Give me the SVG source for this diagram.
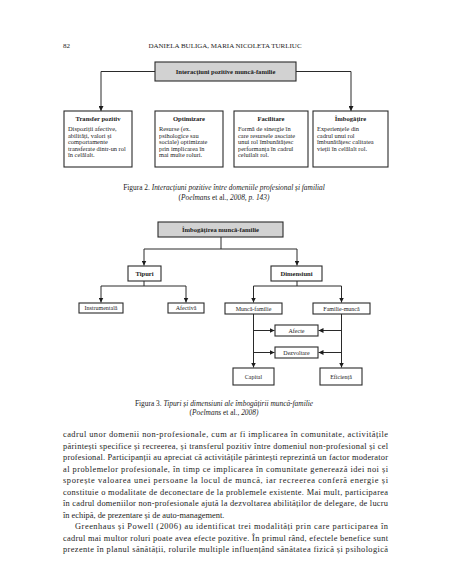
<svg xmlns="http://www.w3.org/2000/svg" width="452" height="584" viewBox="0 0 452 584">
<style>
text{font-family:"Liberation Serif","Times New Roman",serif;fill:#1c1c1c}
.box{fill:#fff;stroke:#2a2a2a;stroke-width:1.1}
.gbox{fill:#d2d2d2;stroke:#2a2a2a;stroke-width:1.1}
.ln{fill:none;stroke:#2a2a2a;stroke-width:1}
.hd{font-size:7px}
.bt{font-size:6.6px;font-weight:bold;text-anchor:middle}
.bb{font-size:6.4px}
.sb{font-size:6px;text-anchor:middle}
.sbb{font-size:6.6px;font-weight:bold;text-anchor:middle}
.cap{font-size:7.4px;text-anchor:middle}
.it{font-style:italic}
.p{font-size:8.4px}
</style>
<defs>
<marker id="ar" viewBox="0 0 6 6" refX="6" refY="3" markerWidth="5" markerHeight="5" orient="auto" markerUnits="userSpaceOnUse">
<path d="M0,0 L6,3 L0,6 z" fill="#1c1c1c"/>
</marker>
</defs>

<g id="header">
<text class="hd" x="63" y="48">82</text>
<text class="hd" x="225" y="48" text-anchor="middle">DANIELA BULIGA, MARIA NICOLETA TURLIUC</text>
</g>

<!-- Figure 2 -->
<g id="connectors-fig2">
<path class="ln" d="M155,71.5 H101 V111" marker-end="url(#ar)"/>
<path class="ln" d="M296,71.5 H351 V111" marker-end="url(#ar)"/>
</g>
<g id="f2-top">
<rect class="gbox" x="155" y="62" width="141" height="19"/>
<text class="bt" x="225.5" y="74">Interacțiuni pozitive muncă-familie</text>
</g>
<g id="f2-transfer">
<rect class="box" x="64" y="111" width="68" height="56"/>
<text class="bt" x="98" y="121">Transfer pozitiv</text>
<text class="bb" x="68" y="131">Dispoziții afective,</text>
<text class="bb" x="68" y="137.5">abilități, valori și</text>
<text class="bb" x="68" y="144">comportamente</text>
<text class="bb" x="68" y="150.5">transferate dintr-un rol</text>
<text class="bb" x="68" y="157">în celălalt.</text>
</g>
<g id="f2-optimizare">
<rect class="box" x="155" y="111" width="68" height="56"/>
<text class="bt" x="189" y="121">Optimizare</text>
<text class="bb" x="159" y="131">Resurse (ex.</text>
<text class="bb" x="159" y="137.5">psihologice sau</text>
<text class="bb" x="159" y="144">sociale) optimizate</text>
<text class="bb" x="159" y="150.5">prin implicarea în</text>
<text class="bb" x="159" y="157">mai multe roluri.</text>
</g>
<g id="f2-facilitare">
<rect class="box" x="234" y="111" width="74" height="56"/>
<text class="bt" x="271" y="121">Facilitare</text>
<text class="bb" x="238" y="131">Formă de sinergie în</text>
<text class="bb" x="238" y="137.5">care resursele asociate</text>
<text class="bb" x="238" y="144">unui rol îmbunătățesc</text>
<text class="bb" x="238" y="150.5">performanța în cadrul</text>
<text class="bb" x="238" y="157">celuilalt rol.</text>
</g>
<g id="f2-imbogatire">
<rect class="box" x="313" y="111" width="75" height="56"/>
<text class="bt" x="350.5" y="121">Îmbogățire</text>
<text class="bb" x="317" y="131">Experiențele din</text>
<text class="bb" x="317" y="137.5">cadrul unui rol</text>
<text class="bb" x="317" y="144">îmbunătățesc calitatea</text>
<text class="bb" x="317" y="150.5">vieții în celălalt rol.</text>
</g>
<g id="caption2">
<text class="cap" x="224" y="190">Figura 2. <tspan class="it">Interacțiuni pozitive între domeniile profesional și familial</tspan></text>
<text class="cap" x="224" y="200">(<tspan class="it">Poelmans</tspan> et al., <tspan class="it">2008, p. 143)</tspan></text>
</g>

<!-- Figure 3 -->
<g id="connectors-fig3">
<path class="ln" d="M221,237 V249 H144 V265.5" marker-end="url(#ar)"/>
<path class="ln" d="M221,249 H297 V265.5" marker-end="url(#ar)"/>
<path class="ln" d="M144,281 V286 H101 V302.5" marker-end="url(#ar)"/>
<path class="ln" d="M144,286 H186 V302.5" marker-end="url(#ar)"/>
<path class="ln" d="M297,281 V286 H253.5 V302.5" marker-end="url(#ar)"/>
<path class="ln" d="M297,286 H341.5 V302.5" marker-end="url(#ar)"/>
<path class="ln" d="M253.5,314 V367.5" marker-end="url(#ar)"/>
<path class="ln" d="M341.5,314 V367.5" marker-end="url(#ar)"/>
<path class="ln" d="M253.5,330.5 H274.5" marker-end="url(#ar)"/>
<path class="ln" d="M341.5,330.5 H318.5" marker-end="url(#ar)"/>
<path class="ln" d="M253.5,352.5 H274.5" marker-end="url(#ar)"/>
<path class="ln" d="M341.5,352.5 H318.5" marker-end="url(#ar)"/>
</g>
<g id="f3-top">
<rect class="gbox" x="158" y="222" width="125" height="15"/>
<text class="bt" x="220.5" y="232">Îmbogățirea muncă-familie</text>
</g>
<g id="f3-tipuri">
<rect class="box" x="128" y="266" width="33" height="15"/>
<text class="sbb" x="144.5" y="276">Tipuri</text>
</g>
<g id="f3-dimensiuni">
<rect class="box" x="271" y="266" width="51" height="15"/>
<text class="sbb" x="296.5" y="276">Dimensiuni</text>
</g>
<g id="f3-instrumentala">
<rect class="box" x="79" y="303" width="44" height="10"/>
<text class="sb" x="101" y="310.3">Instrumentală</text>
</g>
<g id="f3-afectiva">
<rect class="box" x="168" y="303" width="36" height="10"/>
<text class="sb" x="186" y="310.3">Afectivă</text>
</g>
<g id="f3-munca-familie">
<rect class="box" x="225" y="303" width="57" height="11"/>
<text class="sb" x="253.5" y="310.8">Muncă-familie</text>
</g>
<g id="f3-familie-munca">
<rect class="box" x="313" y="303" width="57" height="11"/>
<text class="sb" x="341.5" y="310.8">Familie-muncă</text>
</g>
<g id="f3-afecte">
<rect class="box" x="275" y="325" width="43" height="11"/>
<text class="sb" x="296.5" y="332.8">Afecte</text>
</g>
<g id="f3-dezvoltare">
<rect class="box" x="275" y="347" width="43" height="11"/>
<text class="sb" x="296.5" y="354.8">Dezvoltare</text>
</g>
<g id="f3-capital">
<rect class="box" x="233" y="368" width="41" height="17"/>
<text class="sb" x="253.5" y="378.5">Capital</text>
</g>
<g id="f3-eficienta">
<rect class="box" x="320" y="368" width="42" height="17"/>
<text class="sb" x="341" y="378.5">Eficiență</text>
</g>
<g id="caption3">
<text class="cap" x="224" y="406">Figura 3. <tspan class="it">Tipuri și dimensiuni ale îmbogățirii muncă-familie</tspan></text>
<text class="cap" x="224" y="415">(<tspan class="it">Poelmans</tspan> et al., <tspan class="it">2008)</tspan></text>
</g>

<g id="paragraph">
<text class="p" x="63" y="437" textLength="325" lengthAdjust="spacing">cadrul unor domenii non-profesionale, cum ar fi implicarea în comunitate, activitățile</text>
<text class="p" x="63" y="448.5" textLength="325" lengthAdjust="spacing">părintești specifice și recreerea, și transferul pozitiv între domeniul non-profesional și cel</text>
<text class="p" x="63" y="460" textLength="325" lengthAdjust="spacing">profesional. Participanții au apreciat că activitățile părintești reprezintă un factor moderator</text>
<text class="p" x="63" y="471.5" textLength="325" lengthAdjust="spacing">al problemelor profesionale, în timp ce implicarea în comunitate generează idei noi și</text>
<text class="p" x="63" y="483" textLength="325" lengthAdjust="spacing">sporește valoarea unei persoane la locul de muncă, iar recreerea conferă energie și</text>
<text class="p" x="63" y="494.5" textLength="325" lengthAdjust="spacing">constituie o modalitate de deconectare de la problemele existente. Mai mult, participarea</text>
<text class="p" x="63" y="506" textLength="325" lengthAdjust="spacing">în cadrul domeniilor non-profesionale ajută la dezvoltarea abilităților de delegare, de lucru</text>
<text class="p" x="63" y="517.5">în echipă, de prezentare și de auto-management.</text>
<text class="p" x="75" y="529" textLength="313" lengthAdjust="spacing">Greenhaus și Powell (2006) au identificat trei modalități prin care participarea în</text>
<text class="p" x="63" y="540.5" textLength="325" lengthAdjust="spacing">cadrul mai multor roluri poate avea efecte pozitive. În primul rând, efectele benefice sunt</text>
<text class="p" x="63" y="552" textLength="325" lengthAdjust="spacing">prezente în planul sănătății, rolurile multiple influențând sănătatea fizică și psihologică</text>
</g>
</svg>
